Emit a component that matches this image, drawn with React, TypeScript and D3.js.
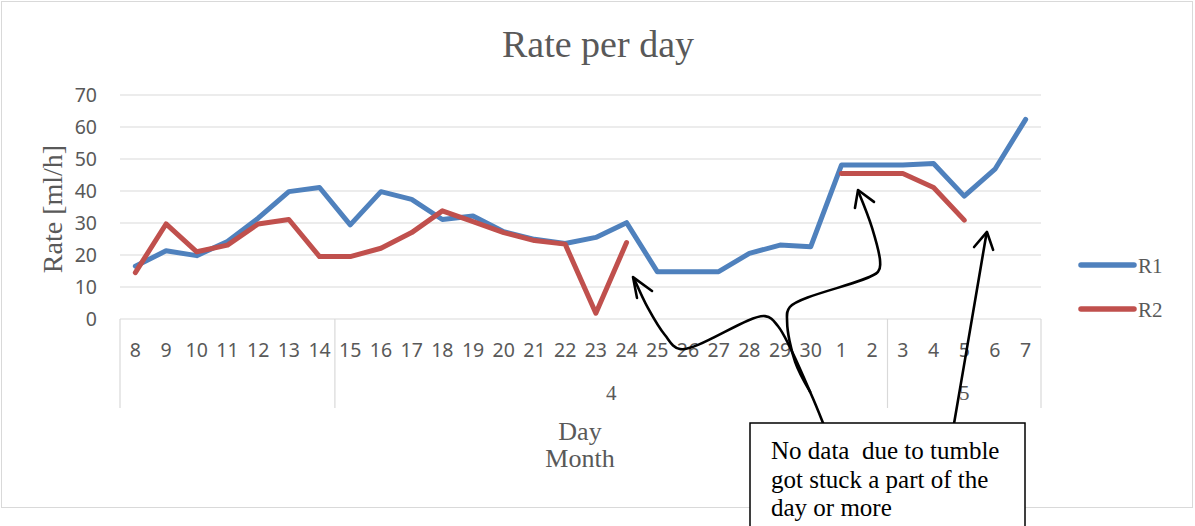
import React from 'react';
import * as d3 from 'd3';

// day labels (April 8 .. May 7)
const days = ['8', '9', '10', '11', '12', '13', '14', '15', '16', '17', '18', '19', '20', '21', '22', '23', '24', '25', '26', '27', '28', '29', '30', '1', '2', '3', '4', '5', '6', '7'];
const r1 = [16.5, 21.3, 19.8, 24.2, 31.5, 39.8, 41.1, 29.4, 39.8, 37.4, 31.1, 32.2, 27.3, 24.9, 23.6, 25.5, 30.1, 14.8, 14.8, 14.8, 20.5, 23.1, 22.6, 48.1, 48.1, 48.1, 48.6, 38.4, 46.8, 62.4];
const r2 = [14.5, 29.7, 21, 23.1, 29.7, 31.1, 19.5, 19.5, 22.1, 27, 33.8, 30.4, 27, 24.5, 23.4, 1.8, 23.9, null, null, null, null, null, null, 45.5, 45.5, 45.5, 41.1, 30.9, null, null];

// month groups on the second axis row
const months = ['', '4', '5'];
const monthStart = [0, 7, 25];
const monthEnd = [7, 25, 30];

const yTicks = [0, 10, 20, 30, 40, 50, 60, 70];

// hand drawn arrows, in (category position, value) space
const arrowA = {
  head: [[16.84, 6.6], [16.71, 13.1], [17.33, 8.75]],
  shaft: [[16.78, 11.9], [17.2, 3.4], [17.75, -5.0], [18.24, -9.4], [21.01, 0.9], [21.43, -2.2], [22.48, -22.8], [22.9, -32.5]],
};
const arrowB = {
  head: [[23.94, 34.7], [24.04, 40.3], [24.56, 36.6]],
  shaft: [[24.07, 39.4], [24.5, 28.4], [24.76, 17.8], [24.69, 14.7], [21.82, 3.75], [21.73, -0.9], [21.99, -13.4], [22.48, -22.8]],
};
const arrowC = {
  head: [[27.82, 22.5], [28.24, 27.2], [28.44, 21.6]],
  shaft: [[28.22, 26.5], [27.69, -3.4], [27.17, -32.5]],
};
const arrows = [arrowA, arrowB, arrowC];

const noteLines = ['No data  due to tumble', 'got stuck a part of the', 'day or more'];

const blue = '#4F81BD';
const red = '#C0504D';
const grey = '#595959';
const gridColor = '#D9D9D9';
const serif = '"Liberation Serif", serif';
const sans = '"Noto Sans", sans-serif';

export default function App() {
  const W = 1195;
  const H = 526;
  const m = { l: 120, r: 1041, t: 95, b: 319 };
  const axisBottom = 408;

  const xi = d3.scaleLinear().domain([0, days.length]).range([m.l, m.r]);
  const y = d3.scaleLinear().domain([0, 70]).range([m.b, m.t]);

  const line = d3
    .line<number | null>()
    .defined(d => d != null)
    .x((d, i) => xi(i + 0.5))
    .y(d => y(d as number));

  const freehand = d3
    .line<number[]>()
    .x(d => xi(d[0]))
    .y(d => y(d[1]))
    .curve(d3.curveCatmullRom.alpha(0.5));
  const straight = d3
    .line<number[]>()
    .x(d => xi(d[0]))
    .y(d => y(d[1]));

  return (
    <svg width={W} height={H} style={{ position: 'absolute', left: 0, top: 0, background: '#fff' }}>
      <rect x={1.5} y={1.5} width={1191} height={506} fill="#fff" stroke={gridColor} strokeWidth={1} />

      <text x={598} y={57} textAnchor="middle" fontFamily={serif} fontSize={38} fill={grey}>
        Rate per day
      </text>

      {/* grid */}
      {yTicks.map(t => (
        <g key={t}>
          <line x1={m.l} x2={m.r} y1={y(t)} y2={y(t)} stroke={gridColor} strokeWidth={1.2} />
          <text x={97} y={y(t)} dy="0.36em" textAnchor="end" fontFamily={sans} fontSize={19.5} fill={grey}>
            {t}
          </text>
        </g>
      ))}

      {/* category axis */}
      {monthStart.map((s, i) => (
        <line key={'s' + i} x1={xi(s)} x2={xi(s)} y1={y(0)} y2={axisBottom} stroke={gridColor} strokeWidth={1.2} />
      ))}
      <line x1={xi(days.length)} x2={xi(days.length)} y1={y(0)} y2={axisBottom} stroke={gridColor} strokeWidth={1.2} />
      {days.map((d, i) => (
        <text key={'d' + i} x={xi(i + 0.5)} y={356.5} textAnchor="middle" fontFamily={sans} fontSize={19.5} fill={grey}>
          {d}
        </text>
      ))}
      {months.map((mo, i) => (
        <text key={'m' + i} x={(xi(monthStart[i]) + xi(monthEnd[i])) / 2} y={400} textAnchor="middle" fontFamily={serif} fontSize={21} fill={grey}>
          {mo}
        </text>
      ))}

      <text x={580} y={440} textAnchor="middle" fontFamily={serif} fontSize={26} fill={grey}>Day</text>
      <text x={580} y={467} textAnchor="middle" fontFamily={serif} fontSize={26} fill={grey}>Month</text>

      <text transform={`translate(62, ${(y(0) + y(70)) / 2 + 2}) rotate(-90)`} textAnchor="middle" fontFamily={serif} fontSize={28} fill={grey}>
        Rate [ml/h]
      </text>

      {/* series */}
      <path d={line(r1) || ''} fill="none" stroke={blue} strokeWidth={5} strokeLinejoin="round" strokeLinecap="round" />
      <path d={line(r2) || ''} fill="none" stroke={red} strokeWidth={5} strokeLinejoin="round" strokeLinecap="round" />

      {/* legend */}
      <line x1={1081} x2={1134} y1={265} y2={265} stroke={blue} strokeWidth={5.5} strokeLinecap="round" />
      <text x={1138} y={273} fontFamily={serif} fontSize={21} fill={grey}>R1</text>
      <line x1={1081} x2={1134} y1={309} y2={309} stroke={red} strokeWidth={5.5} strokeLinecap="round" />
      <text x={1138} y={317} fontFamily={serif} fontSize={21} fill={grey}>R2</text>

      {/* annotation arrows */}
      {arrows.map((a, i) => (
        <g key={'a' + i} fill="none" stroke="#000" strokeWidth={2.6} strokeLinecap="round" strokeLinejoin="round">
          <path d={freehand(a.shaft) || ''} />
          <path d={straight(a.head) || ''} />
        </g>
      ))}

      {/* note box */}
      <rect x={750} y={423} width={275} height={120} fill="#fff" stroke="#000" strokeWidth={1.5} />
      {noteLines.map((t, i) => (
        <text key={'n' + i} x={771} y={459 + i * 28.5} fontFamily={serif} fontSize={25} fill="#000" style={{ whiteSpace: 'pre' }}>
          {t}
        </text>
      ))}
    </svg>
  );
}
